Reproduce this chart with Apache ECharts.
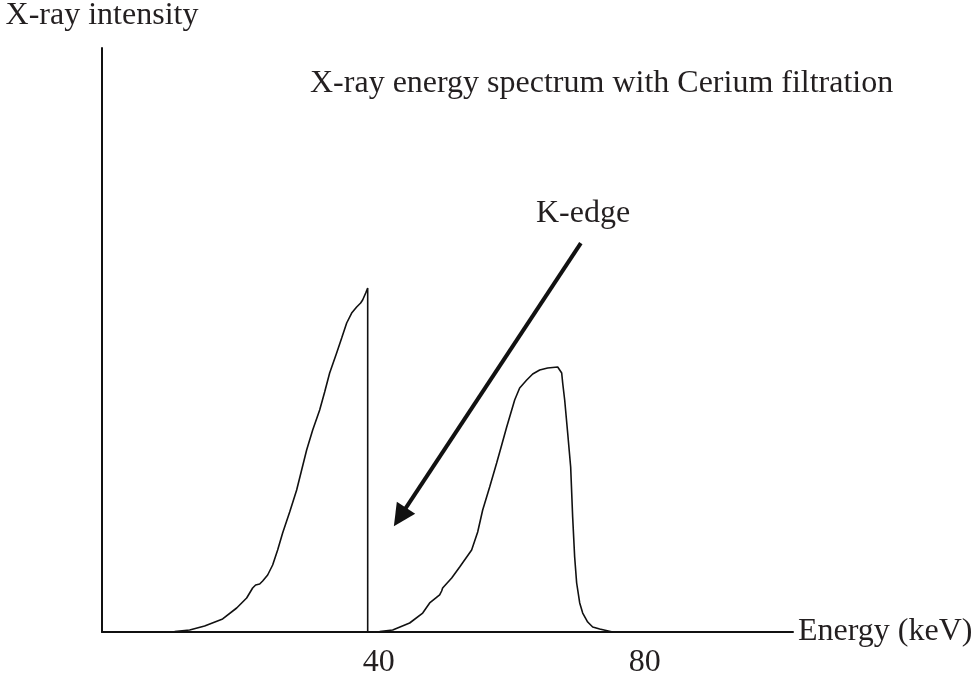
<!DOCTYPE html>
<html>
<head>
<meta charset="utf-8">
<script src="https://cdn.jsdelivr.net/npm/echarts@6/dist/echarts.min.js"></script>
<style>html,body{margin:0;padding:0;background:#fff}#c{width:979px;height:681px}</style>
</head>
<body>
<div id="c"></div>
<script>
// Energy (keV) values of the traced spectrum
const energy = [0, 7.07, 9.32, 11.58, 13.83, 16.54, 18.65, 20.15, 21.05, 21.50, 22.11, 22.56, 23.31, 24.06, 24.81, 25.56, 26.62, 27.67, 28.42, 29.17, 30.08, 31.13, 31.88, 32.63, 33.68, 34.44, 35.19, 35.94, 36.69, 37.29, 37.59, 38.05, 38.35,
  38.35, 40.15, 42.11, 44.66, 46.62, 47.67, 49.17, 49.47, 49.62, 50.98, 52.18, 53.98, 54.89, 55.64, 56.69, 57.74, 58.50, 59.25, 60.45, 61.20, 62.26, 63.16, 64.21, 65.41, 66.92, 67.52, 67.67, 67.97, 68.42, 68.87, 69.17, 69.47, 69.77, 70.23, 70.68, 71.43, 72.18, 73.23, 75.19];
// Relative intensity values
const intensity = [0, 0, 0.09, 0.34, 1.03, 2.23, 4.11, 5.82, 7.53, 8.05, 8.22, 8.73, 9.76, 11.47, 14.04, 16.95, 20.55, 24.32, 27.74, 31.16, 34.59, 38.01, 41.10, 44.35, 47.77, 50.34, 52.91, 54.62, 55.65, 56.34, 56.85, 58.05, 58.90,
  0, 0.09, 0.34, 1.54, 3.25, 4.97, 6.34, 7.02, 7.53, 9.25, 11.13, 14.04, 17.12, 20.89, 24.83, 28.94, 32.02, 35.10, 39.73, 41.78, 43.15, 44.18, 44.86, 45.21, 45.38, 44.35, 42.64, 39.73, 34.08, 28.25, 19.69, 12.84, 8.39, 4.97, 3.25, 1.71, 0.86, 0.51, 0];
const tickValues = [40, 80];
const arrowStart = [70.4, 66.6];
const arrowEnd = [43.2, 19.7];

const FONT = 'Liberation Serif, Times New Roman, serif';
const TXT = '#231f20';
const data = energy.map((e, i) => [e, intensity[i]]);

const chart = echarts.init(document.getElementById('c'), null, {renderer: 'canvas'});
chart.setOption({
  animation: false,
  backgroundColor: '#fff',
  title: {
    text: 'X-ray energy spectrum with Cerium filtration',
    left: 310, top: 68, padding: 0,
    textStyle: {fontFamily: FONT, fontSize: 32, fontWeight: 'normal', color: TXT}
  },
  grid: {left: 102, right: 186, top: 48, bottom: 49, containLabel: false},
  xAxis: {
    type: 'value', min: -1.6, max: 102.3,
    name: 'Energy (keV)', nameLocation: 'end', nameGap: 5,
    nameTextStyle: {fontFamily: FONT, fontSize: 32, color: TXT},
    axisLine: {show: true, onZero: false, lineStyle: {color: '#111', width: 2}},
    axisTick: {show: false},
    splitLine: {show: false},
    axisLabel: {customValues: tickValues, margin: 15, fontFamily: FONT, fontSize: 32, color: TXT, showMinLabel: true, showMaxLabel: true}
  },
  yAxis: {
    type: 'value', min: 0, max: 100,
    name: 'X-ray intensity', nameLocation: 'end', nameGap: 16,
    nameTextStyle: {fontFamily: FONT, fontSize: 32, color: TXT},
    axisLine: {show: true, onZero: false, lineStyle: {color: '#111', width: 2}},
    axisTick: {show: false},
    splitLine: {show: false},
    axisLabel: {show: false}
  },
  graphic: [{
    type: 'text', left: 536, top: 198,
    style: {text: 'K-edge', font: '32px ' + FONT, fill: TXT}
  }],
  series: [{
    type: 'line',
    data: data,
    showSymbol: false,
    smooth: false,
    lineStyle: {color: '#111', width: 1.6},
    markLine: {
      silent: true,
      symbol: ['none', 'triangle'],
      symbolSize: 22,
      label: {show: false},
      lineStyle: {color: '#111', width: 4, type: 'solid'},
      data: [[{coord: arrowStart}, {coord: arrowEnd}]]
    }
  }]
});
</script>
</body>
</html>
